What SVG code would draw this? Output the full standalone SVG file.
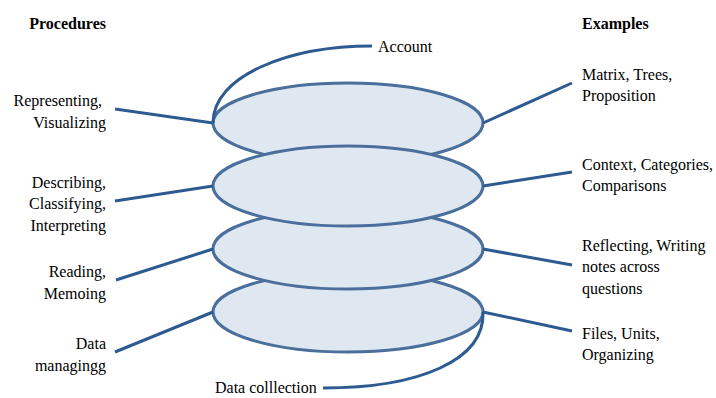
<svg xmlns="http://www.w3.org/2000/svg" width="716" height="398" viewBox="0 0 716 398">
<style>
.t{font-family:'Liberation Serif','DejaVu Serif','Times New Roman',serif;font-size:16px;fill:#000}
.b{font-weight:bold}
.l{text-anchor:end}
.disc{fill:#dfe8f1;stroke:#4b6f9c;stroke-width:3}
.c{fill:none;stroke:#2d5b91;stroke-width:3}
</style>
<rect width="716" height="398" fill="#fff"/>
<g id="layer1"><ellipse class="disc" cx="348" cy="123" rx="135" ry="40"/></g>
<g id="layer4"><ellipse class="disc" cx="348" cy="312" rx="135" ry="40"/></g>
<g id="layer3"><ellipse class="disc" cx="348" cy="249" rx="135" ry="40"/></g>
<g id="layer2"><ellipse class="disc" cx="348" cy="186" rx="135" ry="40"/></g>
<g id="connectors">
<path class="c" d="M213,123 C213,75 290,46 372,46"/>
<path class="c" d="M483,312 C485,360 420,388 323,388"/>
<path class="c" d="M115,109 L213,123"/>
<path class="c" d="M115,201 L213,186"/>
<path class="c" d="M116,280 L213,249"/>
<path class="c" d="M115,352 L213,312"/>
<path class="c" d="M483,123 L572,83"/>
<path class="c" d="M483,186 L572,172"/>
<path class="c" d="M483,249 L572,265"/>
<path class="c" d="M483,312 L572,331"/>
</g>
<g id="headers" class="t" font-family="Liberation Serif, serif">
<text class="b l" x="106" y="29">Procedures</text>
<text class="b" x="582" y="29">Examples</text>
</g>
<g id="procedures" class="t l" font-family="Liberation Serif, serif">
<text x="102" y="106">Representing,</text>
<text x="106" y="128">Visualizing</text>
<text x="106" y="188">Describing,</text>
<text x="106" y="209">Classifying,</text>
<text x="106" y="231">Interpreting</text>
<text x="106" y="277">Reading,</text>
<text x="106" y="299">Memoing</text>
<text x="106" y="349">Data</text>
<text x="106" y="371">managingg</text>
</g>
<g id="examples" class="t" font-family="Liberation Serif, serif">
<text x="582" y="80">Matrix, Trees,</text>
<text x="582" y="101">Proposition</text>
<text x="582" y="170">Context, Categories,</text>
<text x="582" y="191">Comparisons</text>
<text x="582" y="251">Reflecting, Writing</text>
<text x="582" y="272">notes across</text>
<text x="582" y="294">questions</text>
<text x="582" y="339">Files, Units,</text>
<text x="582" y="360">Organizing</text>
</g>
<g id="labels" class="t" font-family="Liberation Serif, serif">
<text x="378" y="52">Account</text>
<text x="215" y="393">Data colllection</text>
</g>
</svg>
